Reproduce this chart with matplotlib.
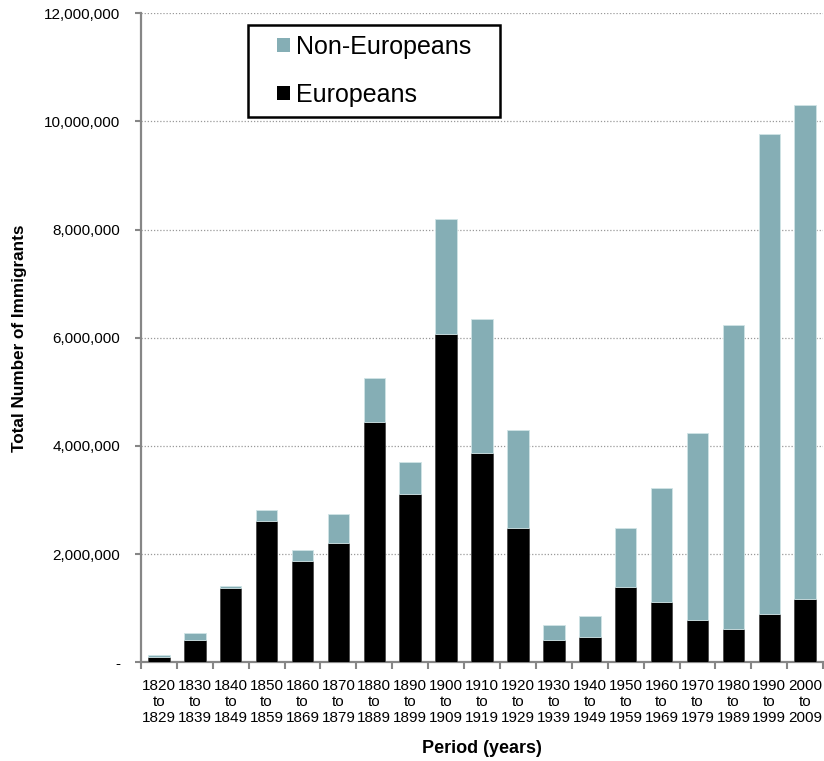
import numpy as np
import matplotlib.pyplot as plt
from matplotlib.patches import Rectangle
from matplotlib.ticker import FuncFormatter, MultipleLocator

plt.rcParams['font.family'] = ['Liberation Sans', 'DejaVu Sans']

# immigration per decade, in millions
decades = [1820, 1830, 1840, 1850, 1860, 1870, 1880, 1890, 1900, 1910,
           1920, 1930, 1940, 1950, 1960, 1970, 1980, 1990, 2000]
europeans = [0.10, 0.42, 1.37, 2.62, 1.88, 2.20, 4.45, 3.12, 6.07, 3.87,
             2.49, 0.42, 0.47, 1.39, 1.12, 0.79, 0.61, 0.90, 1.17]
totals = [0.13, 0.54, 1.41, 2.82, 2.08, 2.74, 5.25, 3.70, 8.19, 6.35,
          4.29, 0.69, 0.85, 2.49, 3.22, 4.24, 6.24, 9.77, 10.30]

europeans = np.array(europeans) * 1e6
non_europeans = np.array(totals) * 1e6 - europeans
labels = ['%d\nto\n%d' % (d, d + 9) for d in decades]

teal = '#85aeb5'
grey = '#868686'

fig = plt.figure(figsize=(8.24, 7.61), dpi=100)
ax = fig.add_axes([0.171, 0.1297, 0.828, 0.8528])

x = np.arange(len(decades))
width = 0.6
b1 = ax.bar(x, europeans, width, color='black', edgecolor='#4a4a4a', linewidth=0.6, zorder=3)
b2 = ax.bar(x, non_europeans, width, bottom=europeans, color=teal,
            edgecolor='#d0e4e6', linewidth=0.6, zorder=3)

ax.set_xlim(-0.5, len(decades) - 0.5)
ax.set_ylim(0, 12e6)
ax.yaxis.set_major_locator(MultipleLocator(2e6))
ax.yaxis.set_major_formatter(FuncFormatter(lambda v, p: '-' if v == 0 else '{:,.0f}'.format(v)))
ax.grid(axis='y', linestyle=(0, (1, 1.5)), color='#999999', linewidth=0.9, zorder=0)

ax.set_xticks(x)
ax.set_xticklabels(labels, fontsize=11, linespacing=1.18)
ax.set_xticks(np.arange(-0.5, len(decades)), minor=True)
ax.tick_params(axis='x', which='major', length=0, pad=12)
ax.tick_params(axis='x', which='minor', length=5, width=1.5, color=grey, direction='out')
ax.tick_params(axis='y', length=4, width=1.5, color=grey, pad=11, labelsize=11)

for side in ['top', 'right']:
    ax.spines[side].set_visible(False)
for side in ['left', 'bottom']:
    ax.spines[side].set_color(grey)
    ax.spines[side].set_linewidth(1.6)

ax.set_xlabel('Period (years)', fontsize=13, fontweight='bold', labelpad=11)
ax.set_ylabel('Total Number of Immigrants', fontsize=12.3, fontweight='bold', labelpad=12)

# legend box drawn separately so its padding can be wider than tall
ax.add_patch(Rectangle((248 / 824, 1 - 117 / 761), 252 / 824, 92 / 761,
                       transform=fig.transFigure, facecolor='white', clip_on=False,
                       edgecolor='black', linewidth=1.8, zorder=5))
leg = ax.legend([b2, b1], ['Non-Europeans', 'Europeans'], loc='center left',
                bbox_to_anchor=(277 / 824, 1 - 71 / 761), bbox_transform=fig.transFigure,
                fontsize=18, frameon=False, handlelength=0.5,
                handleheight=0.5, handletextpad=0.28, labelspacing=0.95,
                borderpad=0, borderaxespad=0)
leg.set_zorder(6)
for h in leg.legend_handles:
    h.set_edgecolor('none')

fig.savefig('out.png', dpi=100)
